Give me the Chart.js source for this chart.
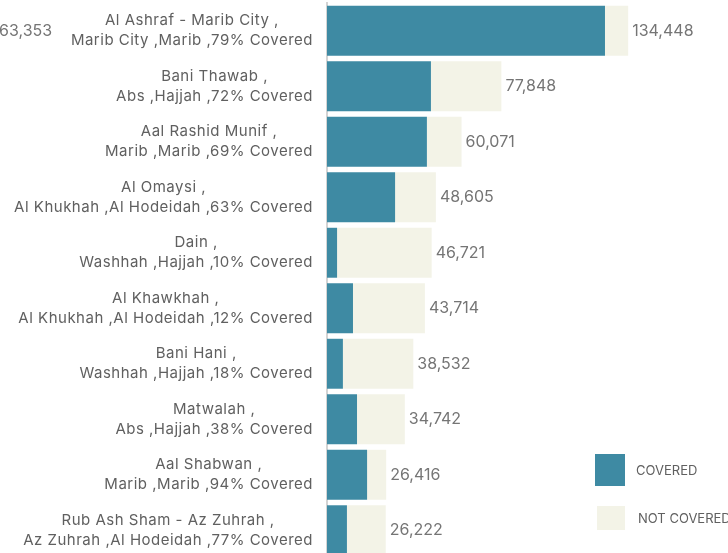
<!DOCTYPE html>
<html>
<head>
<meta charset="utf-8">
<script src="https://cdn.jsdelivr.net/npm/chart.js@4.4.0/dist/chart.umd.min.js"></script>
<style>
  html, body { margin: 0; padding: 0; background: #fff; overflow: hidden; }
  #wrap { width: 800px; height: 561px; }
</style>
</head>
<body>
<div id="wrap"><canvas id="chart" width="800" height="561"></canvas></div>
<script>
// Coverage by district - top 10 by population

const categories = [
  ["Al Ashraf - Marib City ,", "Marib City ,Marib ,79% Covered"],
  ["Bani Thawab ,", "Abs ,Hajjah ,72% Covered"],
  ["Aal Rashid Munif ,", "Marib ,Marib ,69% Covered"],
  ["Al Omaysi ,", "Al Khukhah ,Al Hodeidah ,63% Covered"],
  ["Dain ,", "Washhah ,Hajjah ,10% Covered"],
  ["Al Khawkhah ,", "Al Khukhah ,Al Hodeidah ,12% Covered"],
  ["Bani Hani ,", "Washhah ,Hajjah ,18% Covered"],
  ["Matwalah ,", "Abs ,Hajjah ,38% Covered"],
  ["Aal Shabwan ,", "Marib ,Marib ,94% Covered"],
  ["Rub Ash Sham - Az Zuhrah ,", "Az Zuhrah ,Al Hodeidah ,77% Covered"],
];
const totals = [134448, 77848, 60071, 48605, 46721, 43714, 38532, 34742, 26416, 26222];
const covered = [124100, 46400, 44600, 30400, 4500, 11600, 7100, 13400, 17900, 8900];
const notCovered = totals.map((t, i) => t - covered[i]);
const legendLabels = ["COVERED", "NOT COVERED"];

const TEAL = "#3e8aa3";
const BEIGE = "#f3f3e7";
const TEXT = "#606060";
const NUM = "#757575";
const FONT = "Inter, 'Noto Sans', sans-serif";

// Draws the two-line category labels, totals and the legend
const decorPlugin = {
  id: "decor",
  afterDraw(chart) {
    const ctx = chart.ctx;
    const y = chart.scales.y;
    const x = chart.scales.x;
    ctx.save();

    // category labels: lines centred on each other, block right-aligned
    ctx.font = "15px " + FONT;
    ctx.letterSpacing = "0.5px";
    ctx.fillStyle = TEXT;
    ctx.textBaseline = "middle";
    ctx.textAlign = "center";
    const right = chart.chartArea.left - 14;
    categories.forEach((lines, i) => {
      const cy = y.getPixelForValue(i);
      const w = Math.max(...lines.map((l) => ctx.measureText(l).width));
      const cx = right - w / 2;
      ctx.fillText(lines[0], cx, cy - 10);
      ctx.fillText(lines[1], cx, cy + 10);
    });

    // totals next to each bar
    ctx.font = "16px " + FONT;
    ctx.letterSpacing = "0px";
    ctx.fillStyle = NUM;
    ctx.textAlign = "left";
    totals.forEach((t, i) => {
      const px = x.getPixelForValue(t);
      ctx.fillText(t.toLocaleString("en-US"), px + 4, y.getPixelForValue(i));
    });

    // leftover label from the neighbouring panel
    ctx.fillText("63,353", -1, y.getPixelForValue(0));

    // legend
    ctx.font = "13px " + FONT;
    ctx.fillStyle = TEAL;
    ctx.fillRect(595, 454, 30, 32);
    ctx.fillStyle = BEIGE;
    ctx.fillRect(597, 506, 28, 24);
    ctx.fillStyle = TEXT;
    ctx.fillText(legendLabels[0], 636, 471);
    ctx.fillText(legendLabels[1], 638, 519);
    ctx.restore();
  },
};

function initChart() {
  const ctx = document.getElementById("chart").getContext("2d");
  new Chart(ctx, {
    type: "bar",
    data: {
      labels: categories,
      datasets: [
        {
          label: legendLabels[0],
          data: covered,
          backgroundColor: TEAL,
          borderWidth: 0,
        },
        {
          label: legendLabels[1],
          data: notCovered,
          backgroundColor: BEIGE,
          borderWidth: 0,
        },
      ],
    },
    options: {
      indexAxis: "y",
      responsive: false,
      animation: false,
      devicePixelRatio: 1,
      layout: { padding: { left: 327, right: 25, top: 3, bottom: 3 } },
      datasets: { bar: { categoryPercentage: 1, barPercentage: 0.9 } },
      scales: {
        x: { stacked: true, display: false, min: 0, max: 200000 },
        y: {
          stacked: true,
          grid: { display: false, drawTicks: false },
          border: { display: true, color: "#d4d4d4", width: 2 },
          ticks: { display: false },
        },
      },
      plugins: {
        legend: { display: false },
        tooltip: { enabled: false },
      },
    },
    plugins: [decorPlugin],
  });
}

document.addEventListener("DOMContentLoaded", initChart);
</script>
</body>
</html>
